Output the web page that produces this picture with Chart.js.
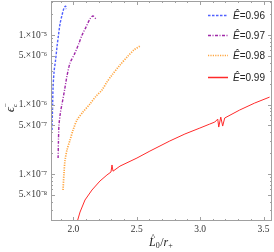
<!DOCTYPE html>
<html>
<head>
<meta charset="utf-8">
<script src="https://cdn.jsdelivr.net/npm/chart.js@4.4.1/dist/chart.umd.min.js"></script>
<style>
  html, body { margin: 0; padding: 0; background: #fff; }
  #wrap { width: 274px; height: 252px; }
</style>
</head>
<body>
<div id="wrap"><canvas id="epsChart" width="274" height="252"></canvas></div>
<script>
// values (x = L0/r+, y = eps_c^-)
var x096 = [1.832, 1.835, 1.837, 1.840, 1.848, 1.860, 1.872, 1.883, 1.895, 1.911, 1.927, 1.939, 1.943];
var y096 = [4.3e-7, 7.1e-7, 1.02e-6, 1.73e-6, 2.94e-6, 4.36e-6, 6.95e-6, 1.0e-5, 1.44e-5, 1.94e-5, 2.45e-5, 2.61e-5, 2.37e-5];

var x097 = [1.880, 1.883, 1.887, 1.899, 1.911, 1.931, 1.950, 1.974, 2.013, 2.045, 2.069, 2.100, 2.131, 2.155, 2.179];
var y097 = [1.7e-7, 3.08e-7, 5.07e-7, 7.8e-7, 1.02e-6, 1.62e-6, 2.57e-6, 3.95e-6, 5.51e-6, 7.67e-6, 1.0e-5, 1.3e-5, 1.7e-5, 1.88e-5, 1.7e-5];

var x098 = [1.919, 1.927, 1.935, 1.950, 1.974, 1.998, 2.029, 2.076, 2.131, 2.179, 2.226, 2.265, 2.305, 2.368, 2.431, 2.478, 2.526];
var y098 = [5.9e-8, 1.07e-7, 1.59e-7, 2.21e-7, 3.08e-7, 4.3e-7, 5.98e-7, 7.8e-7, 1.02e-6, 1.32e-6, 1.62e-6, 2.11e-6, 2.66e-6, 3.7e-6, 4.99e-6, 6.08e-6, 6.95e-6];

var x099 = [2.025, 2.053, 2.092, 2.147, 2.210, 2.265, 2.297, 2.305, 2.313, 2.368, 2.502, 2.604, 2.761, 2.880, 2.998, 3.076, 3.116, 3.139, 3.147, 3.163, 3.178, 3.194, 3.312, 3.430, 3.548];
var y099 = [1.9e-8, 2.84e-8, 4.23e-8, 5.89e-8, 7.93e-8, 9.68e-8, 1.07e-7, 1.35e-7, 1.10e-7, 1.30e-7, 1.70e-7, 2.14e-7, 2.99e-7, 3.77e-7, 4.59e-7, 5.24e-7, 5.6e-7, 6.18e-7, 4.74e-7, 6.6e-7, 4.9e-7, 6.4e-7, 8.34e-7, 1.05e-6, 1.28e-6];

var seriesLabels = ['0.96', '0.97', '0.98', '0.99'];
var xTicks = [2.0, 2.5, 3.0, 3.5];
var yTicks = [5e-8, 1e-7, 5e-7, 1e-6, 5e-6, 1e-5];
var yTickText = ['5.\u00d710\u207b\u2078', '1.\u00d710\u207b\u2077', '5.\u00d710\u207b\u2077', '1.\u00d710\u207b\u2076', '5.\u00d710\u207b\u2076', '1.\u00d710\u207b\u2075'];

function pts(xs, ys) {
  var out = [];
  for (var i = 0; i < xs.length; i++) out.push({x: xs[i], y: ys[i]});
  return out;
}

var frameColor = '#a0a0a0';

// frame, inside ticks, legend and axis titles
var decorPlugin = {
  id: 'decor',
  afterDatasetsDraw: function(chart) {
    var ctx = chart.ctx, a = chart.chartArea;
    var xs = chart.scales.x, ys = chart.scales.y;
    ctx.save();
    ctx.strokeStyle = frameColor;
    ctx.lineWidth = 1;
    ctx.strokeRect(a.left + 0.5, a.top + 0.5, a.right - a.left - 1, a.bottom - a.top - 1);

    ctx.beginPath();
    // x ticks, major every 0.5, minor every 0.1
    for (var k = 18; k <= 35; k++) {
      var v = k / 10;
      var px = Math.round(xs.getPixelForValue(v)) + 0.5;
      if (px < a.left || px > a.right) continue;
      var len = (k % 5 === 0) ? 4 : 2;
      ctx.moveTo(px, a.bottom); ctx.lineTo(px, a.bottom - len);
      ctx.moveTo(px, a.top); ctx.lineTo(px, a.top + len);
    }
    // y ticks on a log scale
    for (var e = -8; e <= -5; e++) {
      for (var m = 1; m <= 9; m++) {
        var val = m * Math.pow(10, e);
        if (val < ys.min || val > ys.max) continue;
        var py = Math.round(ys.getPixelForValue(val)) + 0.5;
        var l = (m === 1 || m === 5) ? 4 : 2;
        ctx.moveTo(a.left, py); ctx.lineTo(a.left + l, py);
        ctx.moveTo(a.right, py); ctx.lineTo(a.right - l, py);
      }
    }
    ctx.stroke();

    // legend
    var rowsY = [15, 35, 55, 77];
    chart.data.datasets.forEach(function(ds, i) {
      var yy = rowsY[i] + 0.5;
      ctx.beginPath();
      ctx.strokeStyle = ds.borderColor;
      ctx.lineWidth = i === 3 ? 1.5 : ds.borderWidth;
      ctx.setLineDash(ds.borderDash || []);
      ctx.moveTo(208, yy); ctx.lineTo(228, yy);
      ctx.stroke();
      ctx.setLineDash([]);
      ctx.fillStyle = '#222';
      ctx.textBaseline = 'middle';
      ctx.textAlign = 'left';
      ctx.font = 'italic 10px "Liberation Sans"';
      ctx.fillText('\u00ca', 233, rowsY[i] + 1);
      var w = ctx.measureText('\u00ca').width;
      ctx.font = '10px "Liberation Sans"';
      ctx.fillText('=' + seriesLabels[i], 233 + w, rowsY[i] + 1);
    });

    // x title  L^0 / r+
    ctx.fillStyle = '#222';
    ctx.textAlign = 'left';
    ctx.textBaseline = 'alphabetic';
    var tx = 149, ty = 246;
    ctx.font = 'italic 12px "Liberation Serif"';
    ctx.fillText('L', tx, ty);
    var lw = ctx.measureText('L').width;
    ctx.font = '9px "Liberation Serif"';
    ctx.fillText('^', tx + 2, ty - 6);
    tx += lw;
    ctx.font = '8px "Liberation Serif"';
    ctx.fillText('0', tx, ty + 2);
    tx += ctx.measureText('0').width + 0.5;
    ctx.font = '12px "Liberation Serif"';
    ctx.fillText('/', tx, ty);
    tx += ctx.measureText('/').width;
    ctx.font = 'italic 12px "Liberation Serif"';
    ctx.fillText('r', tx, ty);
    tx += ctx.measureText('r').width;
    ctx.font = '8px "Liberation Serif"';
    ctx.fillText('+', tx, ty + 2);

    // y title, rotated
    ctx.translate(12, 108);
    ctx.rotate(-Math.PI / 2);
    ctx.textAlign = 'left';
    ctx.font = 'italic 12px "Liberation Serif"';
    ctx.fillText('\u03f5', -4, 2);
    ctx.font = 'italic 7px "Liberation Serif"';
    ctx.fillText('c', 1, 5);
    ctx.font = '7px "Liberation Serif"';
    ctx.fillText('\u2212', 1, -4);
    ctx.restore();
  }
};

new Chart(document.getElementById('epsChart'), {
  type: 'scatter',
  data: {
    datasets: [
      { label: '0.96', data: pts(x096, y096), showLine: true, borderColor: '#5060ff', borderWidth: 1.4, borderDash: [2.5, 1.5], pointRadius: 0, tension: 0.3 },
      { label: '0.97', data: pts(x097, y097), showLine: true, borderColor: '#a028a8', borderWidth: 1.4, borderDash: [3, 1.5, 1, 1.5], pointRadius: 0, tension: 0.3 },
      { label: '0.98', data: pts(x098, y098), showLine: true, borderColor: '#ffa640', borderWidth: 1.7, borderDash: [1.2, 1.2], pointRadius: 0, tension: 0.3 },
      { label: '0.99', data: pts(x099, y099), showLine: true, borderColor: '#ff2a2a', borderWidth: 1, pointRadius: 0, tension: 0 }
    ]
  },
  options: {
    responsive: false,
    animation: false,
    events: [],
    layout: { padding: { top: 1, right: 2, left: 0, bottom: 0 } },
    plugins: { legend: { display: false }, tooltip: { enabled: false } },
    scales: {
      x: {
        type: 'linear',
        min: 1.824,
        max: 3.567,
        grid: { display: false, drawTicks: false },
        border: { display: false },
        afterBuildTicks: function(s) { s.ticks = xTicks.map(function(v) { return {value: v}; }); },
        afterFit: function(s) { s.height = 31; s.paddingLeft = 0; s.paddingRight = 0; },
        ticks: {
          padding: 3,
          color: '#333',
          font: { family: 'Liberation Serif', size: 9.5 },
          callback: function(v) { return v.toFixed(1); }
        }
      },
      y: {
        type: 'logarithmic',
        min: 2.11e-8,
        max: 3.09e-5,
        grid: { display: false, drawTicks: false },
        border: { display: false },
        afterBuildTicks: function(s) { s.ticks = yTicks.map(function(v) { return {value: v}; }); },
        afterFit: function(s) { s.width = 51; s.paddingTop = 0; s.paddingBottom = 0; },
        ticks: {
          padding: 4,
          color: '#333',
          font: { family: 'Liberation Serif', size: 9.5 },
          callback: function(v) {
            var i = yTicks.indexOf(v);
            return i >= 0 ? yTickText[i] : '';
          }
        }
      }
    }
  },
  plugins: [decorPlugin]
});
</script>
</body>
</html>
